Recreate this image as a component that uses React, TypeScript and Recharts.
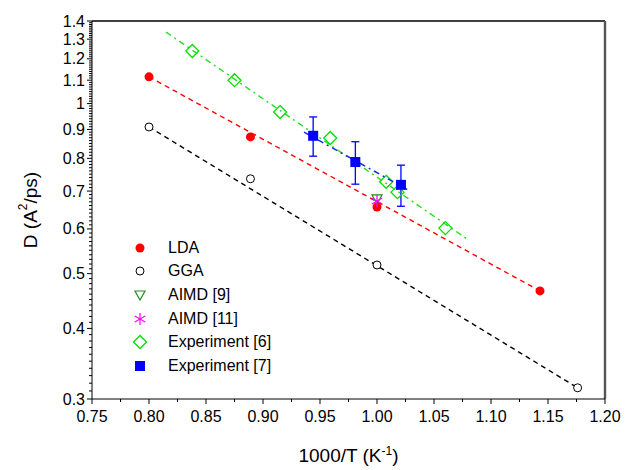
import { ComposedChart, Scatter, XAxis, YAxis, ErrorBar, Legend, Label, ReferenceLine } from "recharts";

// measured points (x = 1000/T, y = D)
const ldaX = [0.8, 0.889, 1.0, 1.143];
const ldaY = [1.115, 0.873, 0.656, 0.466];
const ggaX = [0.8, 0.889, 1.0, 1.176];
const ggaY = [0.909, 0.736, 0.518, 0.314];
const aimd9X = [1.0];
const aimd9Y = [0.678];
const aimd11X = [1.0];
const aimd11Y = [0.672];
const exp6X = [0.838, 0.875, 0.915, 0.959, 1.008, 1.018, 1.06];
const exp6Y = [1.239, 1.1, 0.966, 0.869, 0.727, 0.697, 0.602];
const exp7X = [0.944, 0.981, 1.021];
const exp7Y = [0.877, 0.788, 0.718];
const exp7Err = [0.07, 0.068, 0.06];

// fitted lines (end points)
const ldaFitX = [0.8, 1.143];
const ldaFitY = [1.115, 0.466];
const ggaFitX = [0.8, 1.176];
const ggaFitY = [0.909, 0.314];
const exp6FitX = [0.815, 1.08];
const exp6FitY = [1.338, 0.574];
const exp7FitX = [0.936, 1.029];
const exp7FitY = [0.89, 0.7];

const xMajor = [0.75, 0.8, 0.85, 0.9, 0.95, 1.0, 1.05, 1.1, 1.15, 1.2];
const xLabels = ["0.75", "0.80", "0.85", "0.90", "0.95", "1.00", "1.05", "1.10", "1.15", "1.20"];
const yMajor = [0.3, 0.4, 0.5, 0.6, 0.7, 0.8, 0.9, 1, 1.1, 1.2, 1.3, 1.4];
const yLabels = ["0.3", "0.4", "0.5", "0.6", "0.7", "0.8", "0.9", "1", "1.1", "1.2", "1.3", "1.4"];

const seriesNames = ["LDA", "GGA", "AIMD [9]", "AIMD [11]", "Experiment [6]", "Experiment [7]"];
const seriesKinds = ["lda", "gga", "aimd9", "aimd11", "exp6", "exp7"];

const xTicks: number[] = [];
for (let i = 0; i < xMajor.length; i++) {
  xTicks.push(xMajor[i]);
  if (i < xMajor.length - 1) xTicks.push(Math.round((xMajor[i] + 0.025) * 1000) / 1000);
}
const yTicks: number[] = [];
for (let i = 30; i <= 140; i++) yTicks.push(i / 100);

const pts = (xs: number[], ys: number[], err?: number[]) =>
  xs.map((x, i) => ({ x, y: ys[i], err: err ? err[i] : 0 }));

const FONT = "'Liberation Sans', Arial, Helvetica, sans-serif";

const RED = "#ff0000";
const GREEN = "#00e000";
const DKGREEN = "#1f8a1f";
const MAGENTA = "#ff00ff";
const BLUE = "#0000ff";

function Marker({ kind, cx, cy }: { kind: string; cx: number; cy: number }) {
  switch (kind) {
    case "lda":
      return <circle cx={cx} cy={cy} r={4.5} fill={RED} />;
    case "gga":
      return <circle cx={cx} cy={cy} r={4} fill="#fff" stroke="#000" strokeWidth={1} />;
    case "aimd9":
      return (
        <path
          d={`M${cx - 5},${cy - 4} L${cx + 5},${cy - 4} L${cx},${cy + 5} Z`}
          fill="none"
          stroke={DKGREEN}
          strokeWidth={1.2}
        />
      );
    case "aimd11":
      return (
        <g stroke={MAGENTA} strokeWidth={1.2}>
          <line x1={cx} y1={cy - 6} x2={cx} y2={cy + 6} />
          <line x1={cx - 5.2} y1={cy - 3} x2={cx + 5.2} y2={cy + 3} />
          <line x1={cx - 5.2} y1={cy + 3} x2={cx + 5.2} y2={cy - 3} />
        </g>
      );
    case "exp6":
      return (
        <path
          d={`M${cx},${cy - 6.5} L${cx + 6.5},${cy} L${cx},${cy + 6.5} L${cx - 6.5},${cy} Z`}
          fill="none"
          stroke={GREEN}
          strokeWidth={1.3}
        />
      );
    case "exp7":
      return <rect x={cx - 5} y={cy - 5} width={10} height={10} fill={BLUE} />;
    default:
      return null;
  }
}

const shapeOf = (kind: string) => (p: any) => <Marker kind={kind} cx={p.cx} cy={p.cy} />;
const noShape = () => <g />;

const LegendBox = (props: any) => {
  const items = (props.payload || [])
    .filter((e: any) => seriesNames.includes(e.value))
    .sort((a: any, b: any) => seriesNames.indexOf(a.value) - seriesNames.indexOf(b.value));
  return (
    <div style={{ fontFamily: FONT, fontSize: 16, color: "#000" }}>
      {items.map((e: any) => (
        <div key={e.value} style={{ display: "flex", alignItems: "center", height: 23.6 }}>
          <svg width={20} height={20} style={{ display: "block" }}>
            <Marker kind={seriesKinds[seriesNames.indexOf(e.value)]} cx={10} cy={10} />
          </svg>
          <span style={{ marginLeft: 18 }}>{e.value}</span>
        </div>
      ))}
    </div>
  );
};

const YTick = (props: any) => {
  const { x, y, payload } = props;
  const idx = yMajor.findIndex((m) => Math.abs(m - payload.value) < 1e-6);
  const major = idx >= 0;
  return (
    <g>
      <line x1={x} x2={x - (major ? 5 : 3)} y1={y} y2={y} stroke="#000" strokeWidth={1} />
      {major && (
        <text x={x - 7} y={y} dy={5.5} textAnchor="end" fontSize={16} fontFamily={FONT} fill="#000">
          {yLabels[idx]}
        </text>
      )}
    </g>
  );
};

const XTick = (props: any) => {
  const { x, y, payload } = props;
  const idx = xMajor.findIndex((m) => Math.abs(m - payload.value) < 1e-6);
  const major = idx >= 0;
  return (
    <g>
      <line x1={x} x2={x} y1={y} y2={y + (major ? 5 : 3)} stroke="#000" strokeWidth={1} />
      {major && (
        <text x={x} y={y + 23} textAnchor="middle" fontSize={16} fontFamily={FONT} fill="#000">
          {xLabels[idx]}
        </text>
      )}
    </g>
  );
};

const YTitle = (props: any) => {
  const vb = props.viewBox;
  const cx = vb.x + 30;
  const cy = vb.y + vb.height / 2;
  return (
    <text
      x={cx}
      y={cy}
      transform={`rotate(-90 ${cx} ${cy})`}
      textAnchor="middle"
      dominantBaseline="central"
      fontSize={19}
      fontFamily={FONT}
      fill="#000"
    >
      D (A<tspan dy={-7} fontSize={12}>2</tspan>
      <tspan dy={7}>/ps)</tspan>
    </text>
  );
};

const XTitle = (props: any) => {
  const vb = props.viewBox;
  const cx = vb.x + vb.width / 2;
  return (
    <text x={cx} y={vb.y + 63} textAnchor="middle" fontSize={19} fontFamily={FONT} fill="#000">
      1000/T (K<tspan dy={-7} fontSize={12}>-1</tspan>
      <tspan dy={7}>)</tspan>
    </text>
  );
};

export default function App() {
  return (
    <div style={{ position: "absolute", left: 0, top: 0, width: 625, height: 470, background: "#fff" }}>
      <ComposedChart width={625} height={470} margin={{ top: 21, right: 20, bottom: 0, left: 0 }}>
        <XAxis
          dataKey="x"
          type="number"
          domain={[0.75, 1.2]}
          ticks={xTicks}
          interval={0}
          tick={<XTick />}
          tickLine={false}
          tickSize={0}
          tickMargin={0}
          height={71}
          axisLine={{ stroke: "#000", strokeWidth: 1 }}
          allowDataOverflow
        >
          <Label content={<XTitle />} />
        </XAxis>
        <YAxis
          dataKey="y"
          type="number"
          scale="log"
          domain={[0.3, 1.4]}
          ticks={yTicks}
          interval={0}
          tick={<YTick />}
          tickLine={false}
          tickSize={0}
          tickMargin={0}
          width={92}
          axisLine={{ stroke: "#000", strokeWidth: 1 }}
          allowDataOverflow
        >
          <Label content={<YTitle />} />
        </YAxis>

        <ReferenceLine y={1.4} stroke="#000" strokeWidth={1.6} ifOverflow="visible" />
        <ReferenceLine x={1.2} stroke="#555" strokeWidth={2.4} ifOverflow="visible" />

        <Scatter data={pts(ggaFitX, ggaFitY)} line={{ stroke: "#000", strokeWidth: 1.4, strokeDasharray: "5 4" }} shape={noShape} legendType="none" isAnimationActive={false} />
        <Scatter data={pts(ldaFitX, ldaFitY)} line={{ stroke: RED, strokeWidth: 1.4, strokeDasharray: "5 4" }} shape={noShape} legendType="none" isAnimationActive={false} />
        <Scatter data={pts(exp6FitX, exp6FitY)} line={{ stroke: "#22dd22", strokeWidth: 1.4, strokeDasharray: "6 4 2 4" }} shape={noShape} legendType="none" isAnimationActive={false} />

        <Scatter name="LDA" data={pts(ldaX, ldaY)} fill={RED} shape={shapeOf("lda")} isAnimationActive={false} />
        <Scatter name="GGA" data={pts(ggaX, ggaY)} fill="#000" shape={shapeOf("gga")} isAnimationActive={false} />
        <Scatter name="AIMD [9]" data={pts(aimd9X, aimd9Y)} fill={DKGREEN} shape={shapeOf("aimd9")} isAnimationActive={false} />
        <Scatter name="AIMD [11]" data={pts(aimd11X, aimd11Y)} fill={MAGENTA} shape={shapeOf("aimd11")} isAnimationActive={false} />
        <Scatter name="Experiment [6]" data={pts(exp6X, exp6Y)} fill={GREEN} shape={shapeOf("exp6")} isAnimationActive={false} />
        <Scatter data={pts(exp7FitX, exp7FitY)} line={{ stroke: "#1a2ae0", strokeWidth: 1.5, strokeDasharray: "6 4 2 4" }} shape={noShape} legendType="none" isAnimationActive={false} />
        <Scatter name="Experiment [7]" data={pts(exp7X, exp7Y, exp7Err)} fill={BLUE} shape={shapeOf("exp7")} isAnimationActive={false}>
          <ErrorBar dataKey="err" direction="y" width={4} stroke={BLUE} strokeWidth={1.3} isAnimationActive={false} />
        </Scatter>

        <Legend
          layout="vertical"
          align="center"
          verticalAlign="middle"
          content={<LegendBox />}
          wrapperStyle={{ left: 130, top: 236, width: 220 }}
        />
      </ComposedChart>
    </div>
  );
}
